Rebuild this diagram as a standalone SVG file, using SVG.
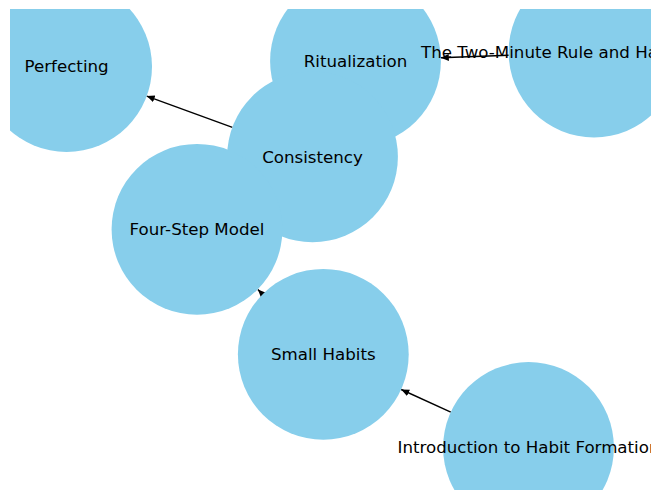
<svg xmlns="http://www.w3.org/2000/svg" width="660" height="499" viewBox="0 0 660 499">
<style>
.node circle{fill:#87CEEB;stroke:none}
.node text{font-family:"DejaVu Sans","Liberation Sans",sans-serif;font-size:16.67px;fill:#000;text-anchor:middle}
.edge{stroke:#000;stroke-width:1.4;fill:none;marker-end:url(#arrow)}
</style>
<defs>
<clipPath id="ax"><rect x="10" y="9" width="641" height="481"/></clipPath>
<marker id="arrow" markerUnits="userSpaceOnUse" markerWidth="10" markerHeight="10" viewBox="0 0 10 10" refX="8" refY="3.5" orient="auto">
<path d="M0,0 L8,3.5 L0,7 z" fill="#000"/>
</marker>
</defs>
<rect width="660" height="499" fill="#fff"/>
<g clip-path="url(#ax)">
<g id="edges">
<line class="edge" x1="232.4" y1="127.3" x2="146.7" y2="96.1"/>
<line class="edge" x1="508.7" y1="55.2" x2="440.8" y2="57.8"/>
<line class="edge" x1="262.6" y1="294.3" x2="257.9" y2="289.5"/>
<line class="edge" x1="450.8" y1="412.2" x2="401.2" y2="389.5"/>
</g>
<g id="n-perfecting" class="node"><circle cx="66.6" cy="66.6" r="85.4"/></g>
<g id="n-ritualization" class="node"><circle cx="355.5" cy="61" r="85.4"/></g>
<g id="n-twominute" class="node"><circle cx="594" cy="52" r="85.4"/></g>
<g id="n-consistency" class="node"><circle cx="312.5" cy="156.8" r="85.4"/></g>
<g id="n-fourstep" class="node"><circle cx="197" cy="229.3" r="85.4"/></g>
<g id="n-smallhabits" class="node"><circle cx="323.3" cy="354.3" r="85.4"/></g>
<g id="n-intro" class="node"><circle cx="528.5" cy="447.5" r="85.4"/></g>
<g id="labels" class="node">
<text x="66.6" y="72.3">Perfecting</text>
<text x="355.5" y="66.7">Ritualization</text>
<text x="421" y="57.5" style="text-anchor:start">The Two-Minute Rule and Habit Stacking</text>
<text x="312.5" y="162.5">Consistency</text>
<text x="197" y="235">Four-Step Model</text>
<text x="323.3" y="360">Small Habits</text>
<text x="528.5" y="453.2">Introduction to Habit Formation</text>
</g>
</g>
</svg>
